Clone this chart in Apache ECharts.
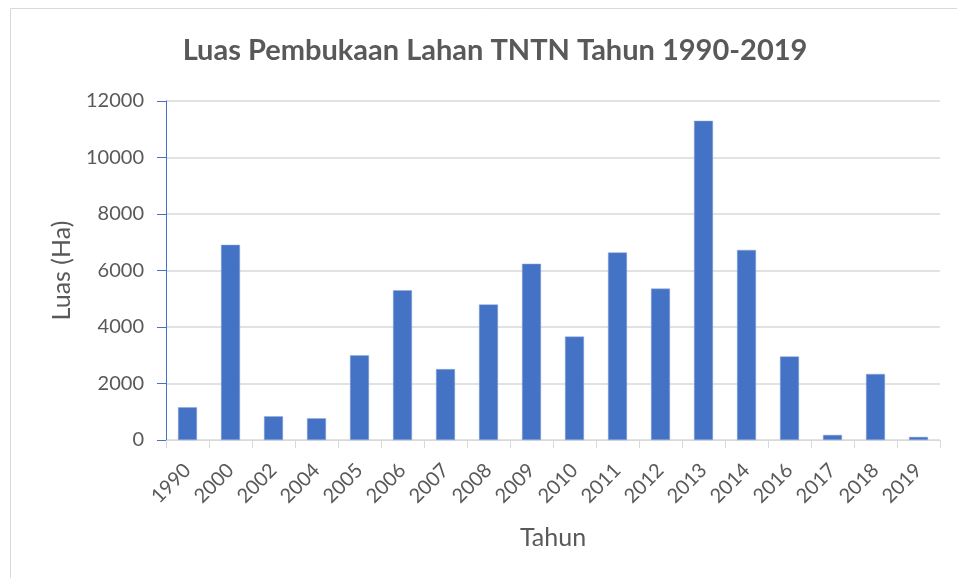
<!DOCTYPE html>
<html>
<head>
<meta charset="utf-8">
<script src="https://cdn.jsdelivr.net/npm/echarts@6/dist/echarts.min.js"></script>
<style>
  html, body { margin: 0; padding: 0; background: #fff; }
  #chart { width: 957px; height: 578px; }
</style>
</head>
<body>
<div id="chart"></div>
<script>
// data
let years = ["1990", "2000", "2002", "2004", "2005", "2006", "2007", "2008", "2009",
  "2010", "2011", "2012", "2013", "2014", "2016", "2017", "2018", "2019"];
let luas = [1160, 6910, 840, 770, 3000, 5300, 2510, 4800, 6240,
  3660, 6640, 5360, 11300, 6730, 2960, 180, 2340, 110];
let yTicks = [0, 2000, 4000, 6000, 8000, 10000, 12000];

let font = "Lato, 'Noto Sans', sans-serif";
let textColor = "#595959";

var myChart = echarts.init(document.getElementById("chart"));
var option;

option = {
  animation: false,
  textStyle: { fontFamily: font },
  title: {
    text: "Luas Pembukaan Lahan TNTN Tahun 1990-2019",
    left: 490,
    top: 31,
    textAlign: "center",
    textStyle: { fontFamily: font, fontSize: 29, fontWeight: "bold", color: textColor },
  },
  graphic: [
    {
      type: "rect",
      shape: { x: 10.5, y: 8.5, width: 960, height: 590 },
      style: { fill: null, stroke: "#d9d9d9", lineWidth: 1 },
      silent: true,
    },
  ],
  grid: { left: 166, right: 17, top: 101, bottom: 138 },
  xAxis: {
    type: "category",
    data: years,
    name: "Tahun",
    nameLocation: "middle",
    nameGap: 85,
    nameTextStyle: { fontSize: 25, color: textColor, fontFamily: font },
    axisLine: { lineStyle: { color: "#d9d9d9", width: 1 } },
    axisTick: { show: true, length: 8, lineStyle: { color: "#d9d9d9" } },
    axisLabel: { rotate: 45, fontSize: 20, color: textColor, margin: 27, interval: 0 },
  },
  yAxis: {
    type: "value",
    min: yTicks[0],
    max: yTicks[yTicks.length - 1],
    interval: 2000,
    name: "Luas (Ha)",
    nameLocation: "middle",
    nameGap: 92,
    nameTextStyle: { fontSize: 25, color: textColor, fontFamily: font },
    axisLine: { show: true, lineStyle: { color: "#4472c4", width: 1 } },
    axisTick: { show: true, length: 9, lineStyle: { color: "#4472c4" } },
    axisLabel: {
      fontSize: 20,
      color: textColor,
      margin: 22,
      formatter: function (v) { return String(v); },
    },
    splitLine: { lineStyle: { color: "#d9d9d9", width: 1.5 } },
  },
  series: [
    {
      type: "bar",
      data: luas,
      barWidth: 19,
      itemStyle: { color: "#4472c4", borderColor: "#8faadc", borderWidth: 0.5 },
    },
  ],
};

option && myChart.setOption(option);
</script>
</body>
</html>
